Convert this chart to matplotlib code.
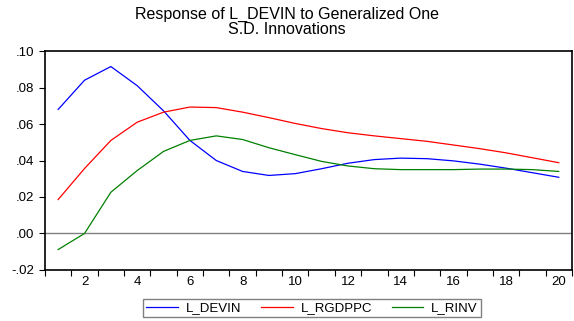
import numpy as np
import matplotlib.pyplot as plt
from matplotlib.ticker import FixedLocator

plt.rcParams['font.family'] = ['Liberation Sans', 'DejaVu Sans']

periods = np.arange(1, 21)

l_devin = [0.068, 0.084, 0.0915, 0.081, 0.0672, 0.051, 0.040, 0.034, 0.0318, 0.0328,
           0.0355, 0.0385, 0.0405, 0.0413, 0.041, 0.0398, 0.038, 0.0358, 0.0333, 0.0308]
l_rgdppc = [0.0186, 0.0356, 0.051, 0.061, 0.0665, 0.0693, 0.069, 0.0665, 0.0635, 0.0603,
            0.0575, 0.0552, 0.0535, 0.052, 0.0505, 0.0485, 0.0465, 0.0442, 0.0415, 0.0388]
l_rinv = [-0.0088, 0.0, 0.0226, 0.0345, 0.045, 0.051, 0.0535, 0.0515, 0.047, 0.0432,
          0.0395, 0.037, 0.0355, 0.035, 0.035, 0.035, 0.0353, 0.0353, 0.035, 0.034]

yticks = [-0.02, 0.0, 0.02, 0.04, 0.06, 0.08, 0.10]
ytick_labels = ['-.02', '.00', '.02', '.04', '.06', '.08', '.10']
xlabel_pos = [2, 4, 6, 8, 10, 12, 14, 16, 18, 20]

fig = plt.figure(figsize=(5.74, 3.21), dpi=100)
ax = fig.add_axes([0.0784, 0.159, 0.918, 0.682])

ax.axhline(0, color='#808080', lw=1.0)
ax.plot(periods, l_devin, color='#0000ff', lw=0.9, label='L_DEVIN')
ax.plot(periods, l_rgdppc, color='#ff0000', lw=0.9, label='L_RGDPPC')
ax.plot(periods, l_rinv, color='#008000', lw=0.9, label='L_RINV')

ax.set_xlim(0.5, 20.5)
ax.set_ylim(-0.02, 0.10)
ax.set_yticks(yticks)
ax.set_yticklabels(ytick_labels)

# ticks sit between periods, labels on even periods
ax.xaxis.set_major_locator(FixedLocator(np.arange(0.5, 21, 1.0)))
ax.xaxis.set_major_formatter(plt.NullFormatter())
ax.xaxis.set_minor_locator(FixedLocator(xlabel_pos))
ax.set_xticklabels([str(v) for v in xlabel_pos], minor=True)
ax.tick_params(axis='x', which='major', length=4, width=0.8, direction='out')
ax.tick_params(axis='x', which='minor', length=0, pad=4, labelsize=9.5)
ax.tick_params(axis='y', length=4, width=0.8, direction='out', labelsize=9.5, pad=3.5)

for s in ax.spines.values():
    s.set_linewidth(1.2)
    s.set_color('black')

fig.text(0.5, 1 - 14 / 321, 'Response of L_DEVIN to Generalized One',
         ha='center', va='center', fontsize=11.5)
fig.text(0.5, 1 - 30 / 321, 'S.D. Innovations',
         ha='center', va='center', fontsize=11.5)

leg = fig.legend(loc='center', bbox_to_anchor=(312 / 574, 1 - 308 / 321), ncol=3,
                 fontsize=9.5, frameon=True, fancybox=False, shadow=False,
                 handlelength=2.4, columnspacing=1.5, borderpad=0.2,
                 handletextpad=0.6)
leg.get_frame().set_edgecolor('#606060')
leg.get_frame().set_linewidth(1.0)

fig.savefig('out.png', dpi=100)
